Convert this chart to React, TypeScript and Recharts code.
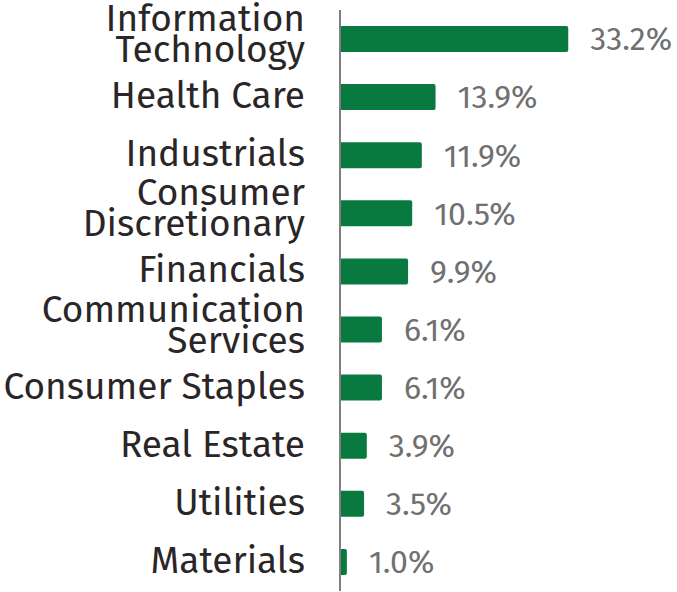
import { BarChart, Bar, XAxis, YAxis, LabelList } from "recharts";

const categories = [
  "Information\nTechnology",
  "Health Care",
  "Industrials",
  "Consumer\nDiscretionary",
  "Financials",
  "Communication\nServices",
  "Consumer Staples",
  "Real Estate",
  "Utilities",
  "Materials",
];
const weights = [33.2, 13.9, 11.9, 10.5, 9.9, 6.1, 6.1, 3.9, 3.5, 1.0];

const data = categories.map((name, i) => ({ name, value: weights[i] }));

const FONT = "'Fira Sans', 'Noto Sans', sans-serif";

const SectorTick = (props: any) => {
  const { y, payload } = props;
  const x = 305;
  const lines = String(payload.value).split("\n");
  const lh = 31;
  const first = lines.length === 1 ? 11 : -8;
  return (
    <text
      x={x}
      y={y}
      textAnchor="end"
      fill="#2a2627"
      fontSize={37}
      fontFamily={FONT}
    >
      {lines.map((l, i) => (
        <tspan key={i} x={x} dy={i === 0 ? first : lh}>
          {l}
        </tspan>
      ))}
    </text>
  );
};

export default function App() {
  return (
    <div style={{ position: "absolute", left: 0, top: 0 }}>
      <BarChart
        width={677}
        height={592}
        data={data}
        layout="vertical"
        margin={{ top: 10, right: 62, bottom: 1, left: 0 }}
      >
        <XAxis type="number" domain={[0, 40]} hide />
        <YAxis
          type="category"
          dataKey="name"
          width={340}
          tickLine={false}
          axisLine={{ stroke: "#7f7f7f", strokeWidth: 2 }}
          tick={<SectorTick />}
          interval={0}
        />
        <Bar dataKey="value" fill="#097a3f" barSize={26} isAnimationActive={false} radius={[0, 2, 2, 0]}>
          <LabelList
            dataKey="value"
            position="right"
            offset={22}
            formatter={(v: any) => `${Number(v).toFixed(1)}%`}
            style={{ fill: "#707070", fontSize: 32, fontFamily: FONT }}
          />
        </Bar>
      </BarChart>
    </div>
  );
}
